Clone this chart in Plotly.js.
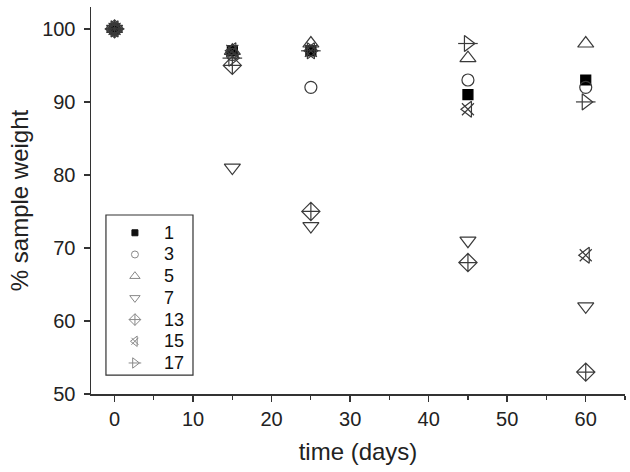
<!DOCTYPE html>
<html>
<head>
<meta charset="utf-8">
<script src="https://cdn.plot.ly/plotly-3.0.1.min.js"></script>
<style>html,body{margin:0;padding:0;background:#fff;}#chart{width:630px;height:472px;}</style>
</head>
<body>
<div id="chart"></div>
<script>
// ---- data ----
const days = [0, 15, 25, 45, 60];
const seriesNames = ["1", "3", "5", "7", "13", "15", "17"];
const s1  = [100, 97, 97, 91, 93];
const s3  = [100, 96.5, 92, 93, 92];
const s5  = [100, 97, 98, 96, 98];
const s7  = [100, 81, 73, 71, 62];
const s13 = [100, 95, 75, 68, 53];
const s15 = [100, 97, 97, 89, 69];
const s17 = [100, 96, 97, 98, 90];
const seriesValues = [s1, s3, s5, s7, s13, s15, s17];
const xTickVals = [0, 10, 20, 30, 40, 50, 60];
const yTickVals = [50, 60, 70, 80, 90, 100];

// ---- styles ----
const dark = "#3a3a3a";
const symbolSets = [
  [{s: "square", size: 10, color: "#000", fill: true}],
  [{s: "circle-open", size: 12}],
  [{s: "triangle-up-open", size: 14}],
  [{s: "triangle-down-open", size: 14}],
  [{s: "diamond-cross-open", size: 14}],
  [{s: "triangle-left-open", size: 14}, {s: "x-thin-open", size: 12}],
  [{s: "triangle-right-open", size: 14}, {s: "line-ew-open", size: 14}]
];

const traces = [];
seriesValues.forEach((vals, i) => {
  symbolSets[i].forEach((sym) => {
    traces.push({
      type: "scatter", mode: "markers", x: days, y: vals,
      name: seriesNames[i], showlegend: false,
      marker: {symbol: sym.s, size: sym.size, color: sym.color || dark,
               line: {width: 1.2, color: sym.color || dark}},
      hoverinfo: "x+y+name"
    });
  });
});

// ---- manual legend on a helper axis pair ----
const legSymX = 0.333, legTextX = 0.64, legTop = 0.889, legStep = 0.1356;
const annotations = [];
seriesNames.forEach((nm, i) => {
  const yy = legTop - i * legStep;
  symbolSets[i].forEach((sym) => {
    traces.push({
      type: "scatter", mode: "markers", x: [legSymX], y: [yy],
      xaxis: "x2", yaxis: "y2", showlegend: false, hoverinfo: "skip",
      marker: {symbol: sym.s, size: Math.round(sym.size * 0.62),
               color: sym.fill ? "#111" : "#888",
               line: {width: 1, color: sym.fill ? "#111" : "#888"}}
    });
  });
  annotations.push({xref: "x2", yref: "y2", x: legTextX, y: yy, text: nm,
    showarrow: false, xanchor: "left", yanchor: "middle",
    font: {family: "Liberation Sans, Arial, sans-serif", size: 18, color: "#111"}});
});

const layout = {
  width: 630, height: 472,
  margin: {l: 91, r: 5, t: 7, b: 78},
  paper_bgcolor: "#fff", plot_bgcolor: "#fff",
  font: {family: "Liberation Sans, Arial, sans-serif", color: "#222"},
  xaxis: {
    range: [-3, 65], tickvals: xTickVals, ticks: "outside", ticklen: 6, tickwidth: 1.5,
    tickcolor: "#333", showline: true, linecolor: "#333", linewidth: 1.5,
    showgrid: false, zeroline: false, tickfont: {size: 20, color: "#222"},
    minor: {dtick: 5, tick0: 0, ticks: "outside", ticklen: 4, tickwidth: 1.2, tickcolor: "#333", showgrid: false},
    title: {text: "time (days)", font: {size: 24, color: "#222"}, standoff: 14}
  },
  yaxis: {
    range: [50, 103], tickvals: yTickVals, ticks: "outside", ticklen: 6, tickwidth: 1.5,
    tickcolor: "#333", showline: true, linecolor: "#333", linewidth: 1.5,
    showgrid: false, zeroline: false, tickfont: {size: 20, color: "#222"},
    ticklabelstandoff: 4,
    title: {text: "% sample weight", font: {size: 24, color: "#222"}, standoff: 6}
  },
  xaxis2: {domain: [0.028, 0.191], range: [0, 1], anchor: "y2", visible: false, fixedrange: true},
  yaxis2: {domain: [0.049, 0.4625], range: [0, 1], anchor: "x2", visible: false, fixedrange: true},
  shapes: [{type: "rect", xref: "paper", yref: "paper", x0: 0.028, x1: 0.191, y0: 0.049, y1: 0.4625,
            line: {color: "#333", width: 1.2}, fillcolor: "rgba(0,0,0,0)"}],
  annotations: annotations,
  showlegend: false
};

Plotly.newPlot("chart", traces, layout, {displayModeBar: false, staticPlot: true});
</script>
</body>
</html>
